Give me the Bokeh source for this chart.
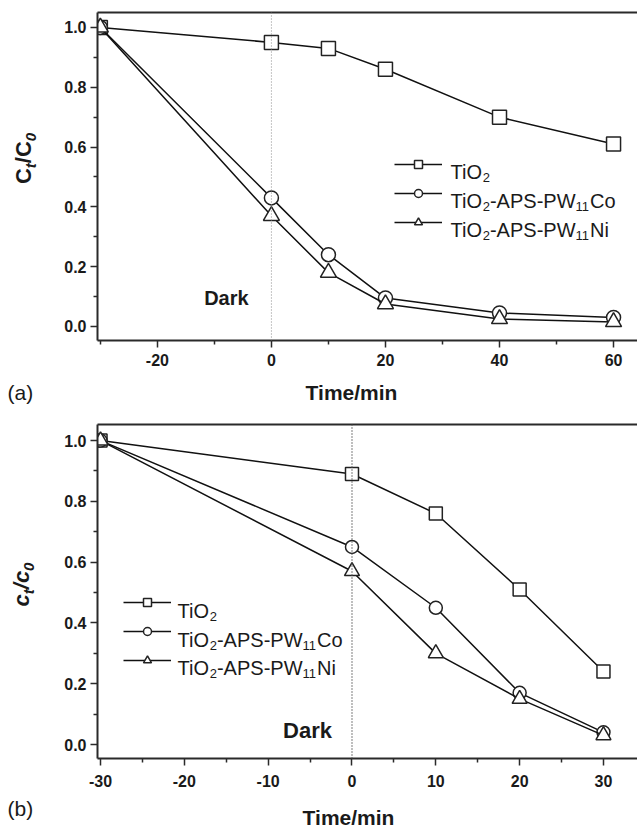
import math
from bokeh.plotting import figure
from bokeh.layouts import column, row
from bokeh.models import (Label, Legend, LegendItem, LinearAxis, FixedTicker,
                          Span, PrintfTickFormatter, Range1d)
from bokeh.embed import file_html
from bokeh.resources import INLINE

# ---------------- data ----------------
series_names = ["TiO2", "TiO2-APS-PW11Co", "TiO2-APS-PW11Ni"]

time_a = [-30, 0, 10, 20, 40, 60]
tio2_a = [1.00, 0.95, 0.93, 0.86, 0.70, 0.61]
co_a = [1.00, 0.43, 0.24, 0.095, 0.045, 0.03]
ni_a = [1.00, 0.37, 0.18, 0.075, 0.025, 0.015]

time_b = [-30, 0, 10, 20, 30]
tio2_b = [1.00, 0.89, 0.76, 0.51, 0.24]
co_b = [1.00, 0.65, 0.45, 0.17, 0.04]
ni_b = [1.00, 0.57, 0.30, 0.15, 0.03]

xticks_a = [-20, 0, 20, 40, 60]
xminor_a = [-30, -10, 10, 30, 50]
xticks_b = [-30, -20, -10, 0, 10, 20, 30]
xminor_b = [-25, -15, -5, 5, 15, 25]
yticks = [0.0, 0.2, 0.4, 0.6, 0.8, 1.0]
yminor = [0.1, 0.3, 0.5, 0.7, 0.9]

FONT = "Liberation Sans"
TXT = "#1a1a1a"
AX = "#2a2a2a"

REG = {'T': 611, 'i': 222, 'O': 778, '-': 333, 'A': 667, 'P': 667, 'S': 667,
       'W': 944, 'C': 722, 'o': 556, 'N': 722, '1': 556, '2': 556}
BOLD = {'C': 722, 'c': 556, '/': 278, 't': 333, '0': 556}


def tw(s, size, table):
    return sum(table[ch] for ch in s) * size / 1000.0


def make_fig(height, border_top, border_bottom, xr, yr, xt, xm, standoff):
    p = figure(width=587, height=height, output_backend="svg", toolbar_location=None,
               x_range=Range1d(*xr), y_range=Range1d(*yr),
               min_border_left=47, min_border_right=0,
               min_border_top=border_top, min_border_bottom=border_bottom)
    p.grid.visible = False
    p.outline_line_color = None
    p.background_fill_color = "white"
    p.border_fill_color = "white"
    for ax, ticks, minor in ((p.xaxis[0], xt, xm), (p.yaxis[0], yticks, yminor)):
        ax.ticker = FixedTicker(ticks=ticks, minor_ticks=minor)
        ax.axis_line_width = 2
        ax.axis_line_color = AX
        ax.major_tick_line_color = AX
        ax.minor_tick_line_color = AX
        ax.major_tick_line_width = 1.5
        ax.minor_tick_line_width = 1.5
        ax.major_tick_in = 0
        ax.major_tick_out = 7
        ax.minor_tick_in = 0
        ax.minor_tick_out = 4
        ax.major_label_text_font = FONT
        ax.major_label_text_font_style = "bold"
        ax.major_label_text_font_size = "16px"
        ax.major_label_text_color = TXT
    p.yaxis[0].formatter = PrintfTickFormatter(format="%.1f")
    p.xaxis[0].formatter = PrintfTickFormatter(format="%d")
    p.yaxis[0].major_label_standoff = 4
    p.xaxis[0].major_label_standoff = standoff
    top = LinearAxis(ticker=FixedTicker(ticks=[], minor_ticks=[]),
                     major_label_text_font_size="0px", major_tick_out=0,
                     minor_tick_out=0, major_tick_in=0, minor_tick_in=0,
                     major_label_standoff=0, axis_line_width=2, axis_line_color=AX)
    p.add_layout(top, "above")
    return p


def text_fig(width, height):
    f = figure(width=width, height=height, output_backend="svg", toolbar_location=None,
               x_axis_location=None, y_axis_location=None, min_border=0,
               x_range=Range1d(0, 1), y_range=Range1d(0, 1))
    f.grid.visible = False
    f.outline_line_color = None
    f.background_fill_color = "white"
    f.border_fill_color = "white"
    return f


def draw_series(p, t, ys, msize):
    markers = ["square", "circle", "triangle"]
    sizes = [msize, msize, msize + 2]
    items = []
    for name, y, m, s in zip(series_names, ys, markers, sizes):
        lr = p.line(t, y, line_color="#111111", line_width=1.5)
        sr = p.scatter(t, y, marker=m, size=s, fill_color="white",
                       line_color="#222222", line_width=1.5)
        items.append(LegendItem(label=" ", renderers=[lr, sr]))
    return items


def add_legend(p, items, lx, ly):
    leg = Legend(items=items, location=(lx, ly), margin=0, padding=0, spacing=9,
                 glyph_width=48, glyph_height=20, label_height=20, label_width=0,
                 label_standoff=0, label_text_font_size="1px",
                 border_line_color=None, background_fill_alpha=0)
    p.add_layout(leg, "center")


def add_legend_text(p, x0, baselines):
    main, sub, shift = 20, 13, 6
    endings = [None, "Co", "Ni"]
    for base, end in zip(baselines, endings):
        pieces = [("TiO", main, 0), ("2", sub, -shift)]
        if end:
            pieces += [("-APS-PW", main, 0), ("11", sub, -shift), (end, main, 0)]
        x = x0
        for s, size, dy in pieces:
            p.add_layout(Label(x=x, y=base + dy, x_units="screen", y_units="screen",
                               text=s, text_font=FONT, text_font_size=f"{size}px",
                               text_color=TXT, text_baseline="alphabetic",
                               text_align="left"))
            x += tw(s, size, REG)


def add_ytitle(p, letter, bx, cy, main_style):
    main, sub, shift = 22, 15, 7
    pieces = [(letter, main, 0, main_style), ("t", sub, shift, "bold italic"),
              ("/" + letter, main, 0, main_style), ("0", sub, shift, "bold italic")]
    total = sum(tw(s, size, BOLD) for s, size, _, _ in pieces)
    y = cy - total / 2
    for s, size, dx, style in pieces:
        p.add_layout(Label(x=bx + dx, y=y, x_units="screen", y_units="screen",
                           text=s, text_font=FONT, text_font_size=f"{size}px",
                           text_font_style=style, text_color=TXT, angle=math.pi / 2,
                           text_baseline="alphabetic", text_align="left"))
        y += tw(s, size, BOLD)


def screen_label(p, text, x, y, size, style, align):
    p.add_layout(Label(x=x, y=y, x_units="screen", y_units="screen", text=text,
                       text_font=FONT, text_font_size=f"{size}px", text_font_style=style,
                       text_color=TXT, text_align=align, text_baseline="middle"))


# ---------------- panel (a) ----------------
HA = 374
pa = make_fig(HA, 12, 34, (-30.5, 64.2), (-0.047, 1.05), xticks_a, xminor_a, 6)
pa.add_layout(Span(location=0, dimension="height", line_color="#8a8a8a",
                   line_dash="1 2", line_width=1))
items_a = draw_series(pa, time_a, [tio2_a, co_a, ni_a], 14)
add_legend(pa, items_a, 297, 108)
add_legend_text(pa, 353, [169, 140, 111])
pa.add_layout(Label(x=-7.9, y=0.094, text="Dark", text_font=FONT, text_font_size="20px",
                    text_font_style="bold", text_color=TXT, text_align="center",
                    text_baseline="middle"))

ta = text_fig(50, HA)
add_ytitle(ta, "C", 23, HA - 157 - 35, "bold")

sa = text_fig(637, 418 - HA)
screen_label(sa, "(a)", 7, 418 - 392, 21, "normal", "left")
screen_label(sa, "Time/min", 351, 418 - 392, 21, "bold", "center")

# ---------------- panel (b) ----------------
HB = 376
pb = make_fig(HB, 6, 36, (-30.36, 34.06), (-0.046, 1.053), xticks_b, xminor_b, 9)
pb.add_layout(Span(location=0, dimension="height", line_color="#555555",
                   line_dash="1 2", line_width=1.5))
items_b = draw_series(pb, time_b, [tio2_b, co_b, ni_b], 13)
add_legend(pb, items_b, 26, 88)
add_legend_text(pb, 80, [148, 119, 91])
pb.add_layout(Label(x=-5.3, y=0.046, text="Dark", text_font=FONT, text_font_size="22px",
                    text_font_style="bold", text_color=TXT, text_align="center",
                    text_baseline="middle"))

tb = text_fig(50, HB)
add_ytitle(tb, "c", 21, (418 + HB) - 584 - 36, "bold italic")

SB = 829 - 418 - HB
sb = text_fig(637, SB)
screen_label(sb, "(b)", 7, 829 - 808, 21, "normal", "left")
screen_label(sb, "Time/min", 348, 829 - 817, 21, "bold", "center")

layout = column(row(ta, pa, spacing=0), sa, row(tb, pb, spacing=0), sb, spacing=0)
open("out.html", "w").write(file_html(layout, INLINE))
